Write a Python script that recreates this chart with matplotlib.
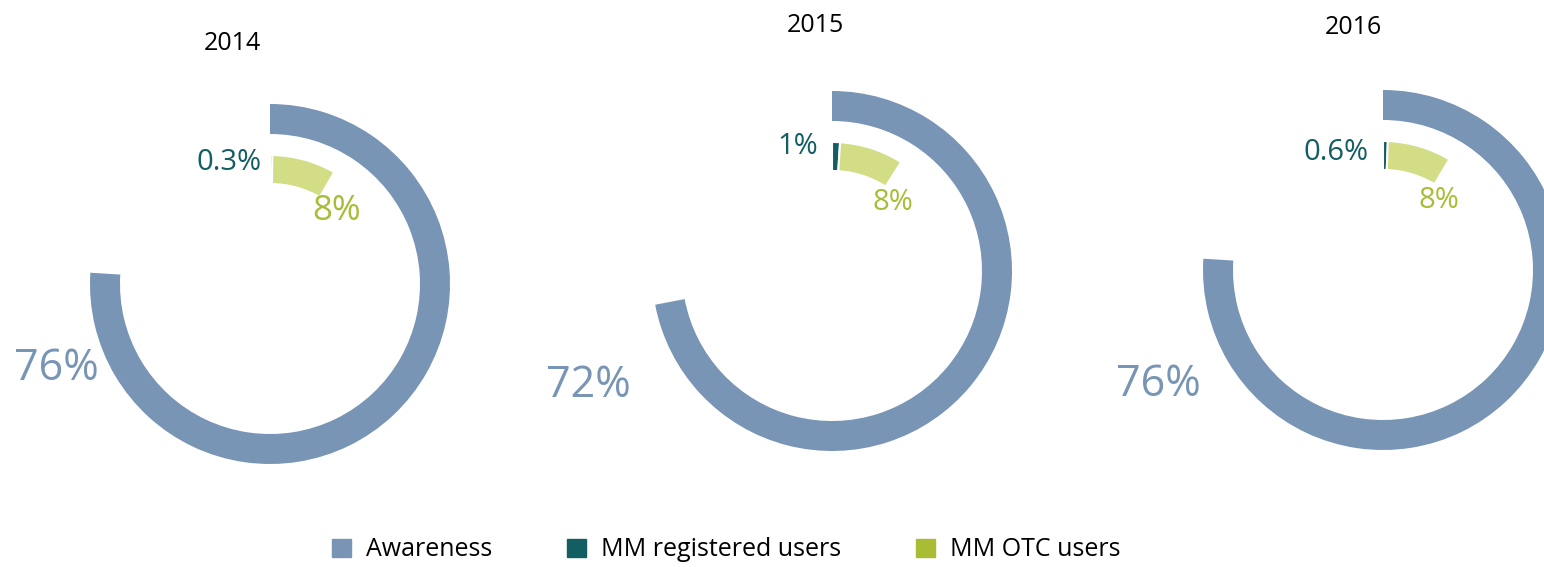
import matplotlib.pyplot as plt
from matplotlib.patches import Patch

# Data (percent of population)
years = ['2014', '2015', '2016']
awareness = [76, 72, 76]
registered = [0.3, 1, 0.6]
otc = [8, 8, 8]

# Colours
C_AWARE = '#7895B5'
C_REG = '#135E62'
C_OTC_RING = '#D2DD86'
C_OTC = '#A9BC34'

W, H = 1544, 567
plt.rcParams['font.family'] = ['Open Sans', 'DejaVu Sans']

fig = plt.figure(figsize=(W / 100, H / 100), dpi=100)
ax = fig.add_axes([0, 0, 1, 1])

# Layout in pixel units (y measured from bottom)
centers = [(270, 283), (832, 296), (1383, 297)]
R_OUT, W_OUT = 180, 30
R_IN, W_IN = 129, 29

# label offsets from ring centre (dx, dy), pixel units
aware_off = [(-214, -85), (-244, -115), (-225, -115)]
reg_off = [(-8, 121), (-14, 125), (-14, 118)]
otc_off = [(67, 73), (61, 69), (56, 70)]
title_off = [(-38, 240), (-17, 246), (-30, 243)]
otc_size = [25, 21, 21]

for i, yr in enumerate(years):
    cx, cy = centers[i]
    ax.pie([awareness[i] / 100], radius=R_OUT, center=(cx, cy), startangle=90,
           counterclock=False, normalize=False, colors=[C_AWARE],
           wedgeprops=dict(width=W_OUT, edgecolor='none'))
    ax.pie([registered[i] / 100, otc[i] / 100], radius=R_IN, center=(cx, cy),
           startangle=90, counterclock=False, normalize=False,
           colors=[C_REG, C_OTC_RING],
           wedgeprops=dict(width=W_IN, edgecolor='white', linewidth=1.5))

    dx, dy = aware_off[i]
    ax.text(cx + dx, cy + dy, f'{awareness[i]:g}%', color=C_AWARE, fontsize=31,
            ha='center', va='center')
    dx, dy = reg_off[i]
    ax.text(cx + dx, cy + dy, f'{registered[i]:g}%', color=C_REG, fontsize=21,
            ha='right', va='center')
    dx, dy = otc_off[i]
    ax.text(cx + dx, cy + dy, f'{otc[i]:g}%', color=C_OTC, fontsize=otc_size[i],
            ha='center', va='center')
    dx, dy = title_off[i]
    ax.text(cx + dx, cy + dy, yr, color='black', fontsize=18,
            ha='center', va='center')

ax.set_xlim(0, W)
ax.set_ylim(0, H)
ax.set_aspect('equal')
ax.axis('off')

handles = [Patch(color=C_AWARE, label='Awareness'),
           Patch(color=C_REG, label='MM registered users'),
           Patch(color=C_OTC, label='MM OTC users')]
fig.legend(handles=handles, loc='center', bbox_to_anchor=(726 / W, 1 - 550 / H),
           ncol=3, frameon=False, fontsize=18, handlelength=0.75,
           handleheight=0.75, handletextpad=0.6, columnspacing=3.0)

fig.savefig('out.png', dpi=100, facecolor='white')
